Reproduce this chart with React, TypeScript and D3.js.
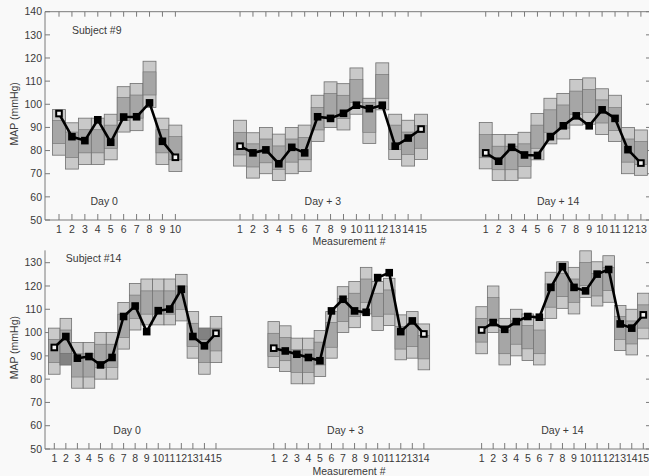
import * as d3 from 'd3';

// Subject #9 -- Day 0
const s9d0Mean = [96, 86, 84.3, 93.3, 83.6, 94.5, 94.6, 100.6, 84, 77.1];
const s9d0Hi = [97.7, 92, 94, 94, 95.7, 107.6, 109, 118.6, 94, 91];
const s9d0Q3 = [93, 88, 89, 89, 91, 103, 104, 114, 89, 86];
const s9d0Q1 = [83, 77, 79, 79, 81, 93, 94, 104, 79, 76];
const s9d0Lo = [78, 72, 74, 74, 76, 88, 88.6, 98.6, 74, 71];

// Subject #9 -- Day + 3
const s9d3Mean = [81.9, 79, 80.3, 74.3, 81.4, 79, 94.6, 93.9, 96.1, 99.6, 98.1, 99.6, 81.9, 85.4, 89.3];
const s9d3Hi = [93.1, 87.7, 90, 87.1, 90, 91, 103.9, 109.7, 108.9, 115.7, 102.6, 117.9, 95.7, 93.1, 95.7];
const s9d3Q3 = [87.9, 82.9, 85, 82, 85, 85.7, 98.6, 104.7, 103.9, 110.7, 100.7, 112.9, 91, 88, 90.7];
const s9d3Q1 = [78.1, 72.9, 74.7, 71.9, 75, 76, 88.9, 94.7, 93.9, 100.7, 87.9, 102.6, 80.4, 78.3, 81];
const s9d3Lo = [73.3, 68.1, 70, 67.1, 70, 71, 83.9, 90, 88.9, 95.7, 83.1, 97.6, 76.1, 73.3, 76.1];

// Subject #9 -- Day + 14
const s9d14Mean = [79, 75.4, 81.4, 78.1, 77.9, 86, 90.7, 95, 90.7, 97.6, 93.9, 80.4, 74.6];
const s9d14Hi = [92.1, 86.9, 86.9, 87.9, 96, 102.6, 104.7, 110.7, 111.4, 106.7, 103.9, 90, 88.9];
const s9d14Q3 = [86.9, 81.9, 81.9, 82.9, 91, 97.6, 99.7, 105.7, 106.4, 101.9, 98.6, 85, 83.9];
const s9d14Q1 = [76.9, 71.7, 71.7, 73.1, 81, 87.9, 89.7, 95.7, 96.4, 91.9, 88.6, 75, 73.9];
const s9d14Lo = [72.1, 67.1, 67.1, 68.1, 76, 82.9, 85, 91, 91.4, 86.9, 83.9, 70, 69.3];

// Subject #14 -- Day 0
const s14d0Mean = [93.6, 98.3, 89, 89.7, 86.1, 89.3, 106.9, 111.4, 100.4, 109.4, 110.1, 118.6, 98.3, 94.3, 99.7];
const s14d0Hi = [101.9, 106.1, 95.7, 95.7, 100, 100, 112.9, 121.1, 123, 123, 123, 125, 109, 101.9, 106.9];
const s14d0Q3 = [97.1, 101.1, 90.9, 90.9, 95, 95, 107.9, 116.1, 117.9, 117.9, 117.9, 120, 104, 97.1, 101.9];
const s14d0Q1 = [87.1, 91.1, 80.9, 80.9, 85, 85, 97.9, 106.1, 107.9, 107.9, 107.9, 110, 94, 87.1, 92.1];
const s14d0Lo = [82.1, 86.1, 76.1, 76.1, 80, 80, 92.9, 101.1, 103.3, 103.3, 103.3, 105, 89, 82.1, 87.1];
// darker overlap patches [measurement, from, to]
const s14d0Dark = [[2, 86.1, 91.1], [14, 97.1, 101.9]];

// Subject #14 -- Day + 3
const s14d3Mean = [93.3, 92.1, 90.7, 89.3, 87.9, 109.3, 114.3, 109.3, 108.7, 123.6, 125.7, 100.4, 105, 99.4];
const s14d3Hi = [104.7, 102.9, 97.6, 97.6, 100.9, 109, 119.7, 121.9, 128, 121.9, 123.3, 107.6, 109, 103.7];
const s14d3Q3 = [99.7, 97.9, 92.6, 92.6, 95.9, 104.3, 114.7, 116.9, 123, 116.9, 118.3, 102.6, 104, 98.7];
const s14d3Q1 = [89.7, 87.9, 82.9, 82.9, 86.1, 93.7, 104.7, 106.9, 113, 106.9, 107.9, 92.9, 94, 88.7];
const s14d3Lo = [85, 83.3, 78, 78, 81.1, 89, 100, 102.1, 108, 100.9, 103, 88.3, 89, 84];

// Subject #14 -- Day + 14
const s14d14Mean = [101.1, 104.3, 101.4, 104.7, 106.9, 106.6, 119.4, 128.3, 119.4, 117.9, 125.1, 127.1, 103.7, 101.9, 107.6];
const s14d14Hi = [111.1, 120, 106.1, 110, 108, 106.1, 125.9, 130.4, 128, 135.1, 130.4, 133, 111.6, 110, 116.9];
const s14d14Q3 = [106.1, 115, 101.1, 105, 103, 101.1, 120.9, 125.4, 123, 130.1, 125.4, 128, 106.9, 105, 111.9];
const s14d14Q1 = [95.9, 105, 90.9, 95, 93, 90.9, 110.9, 115.4, 113, 120.1, 115.7, 118, 97.1, 95.1, 101.9];
const s14d14Lo = [90.9, 100, 86.1, 90, 88, 86.1, 106.1, 110.4, 108, 115.1, 111.4, 113, 92.3, 90.4, 97.3];

const dayLabels = ['Day 0', 'Day + 3', 'Day + 14'];
const yTicks = [50, 60, 70, 80, 90, 100, 110, 120, 130, 140];

// sequence index where each day starts on the shared x axis
const s9Starts = [0, 14, 33];
const s14Starts = [0, 19, 37];
// index (on the shared axis) where the day label sits
const s9LabelAt = [3.5, 20.4, 38.6];
const s14LabelAt = [6.3, 25.2, 44];

type Group = {
  mean: number[];
  hi: number[];
  q3: number[];
  q1: number[];
  lo: number[];
  dark?: number[][];
};

const s9Groups: Group[] = [
  { mean: s9d0Mean, hi: s9d0Hi, q3: s9d0Q3, q1: s9d0Q1, lo: s9d0Lo },
  { mean: s9d3Mean, hi: s9d3Hi, q3: s9d3Q3, q1: s9d3Q1, lo: s9d3Lo },
  { mean: s9d14Mean, hi: s9d14Hi, q3: s9d14Q3, q1: s9d14Q1, lo: s9d14Lo },
];
const s14Groups: Group[] = [
  { mean: s14d0Mean, hi: s14d0Hi, q3: s14d0Q3, q1: s14d0Q1, lo: s14d0Lo, dark: s14d0Dark },
  { mean: s14d3Mean, hi: s14d3Hi, q3: s14d3Q3, q1: s14d3Q1, lo: s14d3Lo },
  { mean: s14d14Mean, hi: s14d14Hi, q3: s14d14Q3, q1: s14d14Q1, lo: s14d14Lo },
];

const FONT = '"Liberation Sans", Arial, sans-serif';
const TXT = '#3a3a3a';
const AXIS = '#7a7a7a';
const LIGHT = '#c9c9c9';
const MID = '#a6a6a6';
const DARK = '#828282';
const EDGE = '#6f6f6f';

type PanelProps = {
  title: string;
  groups: Group[];
  starts: number[];
  labelAt: number[];
  x: d3.ScaleLinear<number, number>;
  y: d3.ScaleLinear<number, number>;
  axisTop: number; // value where the visible left axis starts
  topFrame: boolean;
  measY: number;
};

function Panel({ title, groups, starts, labelAt, x, y, axisTop, topFrame, measY }: PanelProps) {
  const step = x(1) - x(0);
  const left = 45;
  const right = 650;
  const y0 = y(50);
  const visTicks = yTicks.filter((t) => t <= axisTop);
  const line = d3
    .line<number>()
    .x((_, i) => 0)
    .y((d) => y(d));

  return (
    <g>
      {/* frame */}
      <line x1={left} x2={right} y1={y0} y2={y0} stroke={AXIS} />
      <line x1={left} x2={left} y1={y0} y2={y(axisTop)} stroke={AXIS} />
      {topFrame && <line x1={left} x2={right} y1={y(140)} y2={y(140)} stroke={AXIS} />}
      {visTicks.map((t) => (
        <g key={t}>
          <line x1={left} x2={left + 5} y1={y(t)} y2={y(t)} stroke={AXIS} />
          <line x1={right - 4} x2={right} y1={y(t)} y2={y(t)} stroke={AXIS} />
          <text
            x={left - 3}
            y={y(t)}
            dy="0.35em"
            textAnchor="end"
            fontSize={10.5}
            fontFamily={FONT}
            fill={TXT}
          >
            {t}
          </text>
        </g>
      ))}

      <text
        transform={`translate(14,${(y0 + y(axisTop)) / 2 - 2}) rotate(-90)`}
        textAnchor="middle"
        dy="0.35em"
        fontSize={10.5}
        fontFamily={FONT}
        fill={TXT}
      >
        MAP (mmHg)
      </text>

      <text x={x(1)} y={y(131.8)} dy="0.35em" fontSize={10.5} fontFamily={FONT} fill={TXT}>
        {title}
      </text>

      {groups.map((g, gi) => {
        const idx = g.mean.map((_, i) => starts[gi] + i);
        const path = d3
          .line<number>()
          .x((_, i) => x(idx[i]))
          .y((d) => y(d))(g.mean);
        return (
          <g key={gi}>
            {idx.map((p, i) => (
              <g key={i}>
                <rect
                  x={x(p) - step / 2}
                  width={step}
                  y={y(g.hi[i])}
                  height={y(g.lo[i]) - y(g.hi[i])}
                  fill={LIGHT}
                  stroke={EDGE}
                  strokeWidth={0.8}
                />
                <rect
                  x={x(p) - step / 2}
                  width={step}
                  y={y(g.q3[i])}
                  height={y(g.q1[i]) - y(g.q3[i])}
                  fill={MID}
                  stroke={EDGE}
                  strokeWidth={0.6}
                />
              </g>
            ))}
            {(g.dark || []).map(([m, a, b]) => (
              <rect
                key={m}
                x={x(starts[gi] + m - 1) - step / 2}
                width={step}
                y={y(b)}
                height={y(a) - y(b)}
                fill={DARK}
                stroke={EDGE}
                strokeWidth={0.6}
              />
            ))}
            <path d={path || ''} fill="none" stroke="#000" strokeWidth={2.6} strokeLinejoin="round" />
            {idx.map((p, i) => {
              const hollow = i === 0 || i === idx.length - 1;
              return (
                <g key={i}>
                  <rect x={x(p) - 3.8} y={y(g.mean[i]) - 3.8} width={7.6} height={7.6} fill="#000" />
                  {hollow && (
                    <rect x={x(p) - 1.8} y={y(g.mean[i]) - 1.8} width={3.6} height={3.6} fill="#f4f4f4" />
                  )}
                </g>
              );
            })}
            {idx.map((p, i) => (
              <g key={'t' + i}>
                <line x1={x(p)} x2={x(p)} y1={y0} y2={y0 - 6} stroke={AXIS} />
                {topFrame && <line x1={x(p)} x2={x(p)} y1={y(140)} y2={y(140) + 5} stroke={AXIS} />}
                <text
                  x={x(p)}
                  y={y0 + 9}
                  dy="0.35em"
                  textAnchor="middle"
                  fontSize={10.5}
                  fontFamily={FONT}
                  fill={TXT}
                >
                  {i + 1}
                </text>
              </g>
            ))}
            <text
              x={x(labelAt[gi])}
              y={y(58)}
              dy="0.35em"
              textAnchor="middle"
              fontSize={10.5}
              fontFamily={FONT}
              fill={TXT}
            >
              {dayLabels[gi]}
            </text>
          </g>
        );
      })}

      <text x={349} y={measY} dy="0.35em" textAnchor="middle" fontSize={10.5} fontFamily={FONT} fill={TXT}>
        Measurement #
      </text>
    </g>
  );
}

export default function App() {
  const W = 649;
  const H = 476;

  const xTop = d3.scaleLinear().domain([0, 45]).range([59, 640.9]);
  const yTop = d3.scaleLinear().domain([50, 140]).range([220, 11.7]);

  const xBot = d3.scaleLinear().domain([0, 51]).range([54.3, 643.3]);
  const yBot = d3.scaleLinear().domain([50, 130]).range([449, 262.7]);

  return (
    <svg
      width={W}
      height={H}
      style={{ position: 'absolute', left: 0, top: 0, display: 'block' }}
    >
      <rect width={W} height={H} fill="#f9f9f9" />
      <Panel
        title="Subject #9"
        groups={s9Groups}
        starts={s9Starts}
        labelAt={s9LabelAt}
        x={xTop}
        y={yTop}
        axisTop={140}
        topFrame={true}
        measY={241}
      />
      <Panel
        title="Subject #14"
        groups={s14Groups}
        starts={s14Starts}
        labelAt={s14LabelAt}
        x={xBot}
        y={yBot}
        axisTop={135.3}
        topFrame={false}
        measY={471}
      />
    </svg>
  );
}
